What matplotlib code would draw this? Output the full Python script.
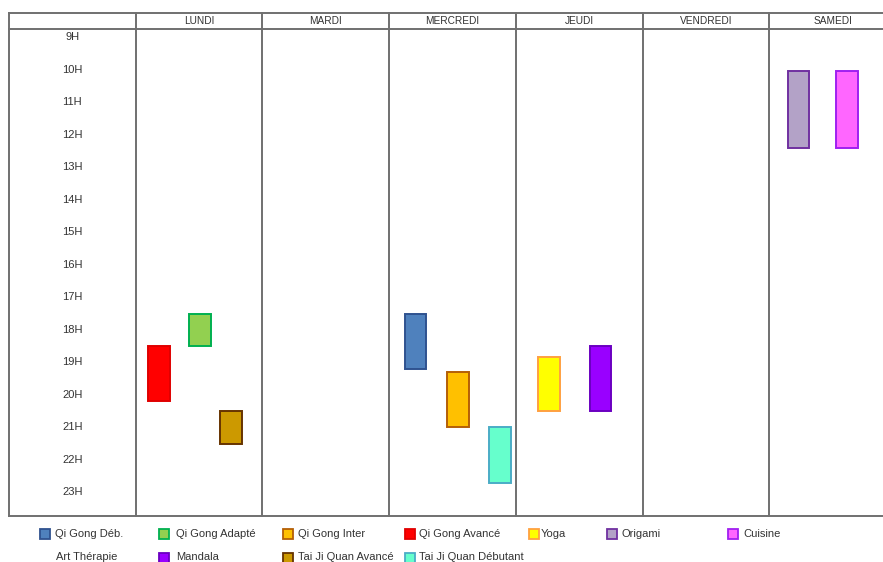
import matplotlib
matplotlib.use("Agg")
import matplotlib.pyplot as plt
from matplotlib.patches import Rectangle

plt.rcParams['font.family'] = ['Liberation Sans', 'DejaVu Sans']

days = ['LUNDI', 'MARDI', 'MERCREDI', 'JEUDI', 'VENDREDI', 'SAMEDI']
hours = list(range(9, 24))
hour_labels = [f'{h}H' for h in hours]

# cours : jour, début, fin (heures décimales)
activities = ['Qi Gong Avancé', 'Qi Gong Adapté', 'Tai Ji Quan Avancé',
              'Qi Gong Déb.', 'Qi Gong Inter', 'Tai Ji Quan Débutant',
              'Yoga', 'Mandala', 'Origami', 'Cuisine']
activity_day = ['LUNDI', 'LUNDI', 'LUNDI',
                'MERCREDI', 'MERCREDI', 'MERCREDI',
                'JEUDI', 'JEUDI', 'SAMEDI', 'SAMEDI']
start = [18.5, 17.5, 20.5, 17.5, 19.3, 21.0, 18.83, 18.5, 10.05, 10.05]
end = [20.2, 18.5, 21.5, 19.2, 21.0, 22.7, 20.5, 20.5, 12.4, 12.4]

# légende (ordre d'affichage)
legend_row1 = ['Qi Gong Déb.', 'Qi Gong Adapté', 'Qi Gong Inter', 'Qi Gong Avancé',
               'Yoga', 'Origami', 'Cuisine']
legend_row2 = ['Art Thérapie', 'Mandala', 'Tai Ji Quan Avancé', 'Tai Ji Quan Débutant']

# styles
face = {
    'Qi Gong Déb.': '#4f81bd', 'Qi Gong Adapté': '#92d050', 'Qi Gong Inter': '#ffc000',
    'Qi Gong Avancé': '#ff0000', 'Yoga': '#ffff00', 'Origami': '#b3a2c7',
    'Cuisine': '#ff66ff', 'Art Thérapie': 'none', 'Mandala': '#9900ff',
    'Tai Ji Quan Avancé': '#cc9900', 'Tai Ji Quan Débutant': '#66ffcc',
}
edge = {
    'Qi Gong Déb.': '#2f528f', 'Qi Gong Adapté': '#00b050', 'Qi Gong Inter': '#b45f06',
    'Qi Gong Avancé': '#e00000', 'Yoga': '#ffa040', 'Origami': '#7030a0',
    'Cuisine': '#a020f0', 'Art Thérapie': 'none', 'Mandala': '#6a00c0',
    'Tai Ji Quan Avancé': '#663300', 'Tai Ji Quan Débutant': '#4bacc6',
}
# position horizontale de chaque barre dans sa colonne (0..1)
slot = [0.184, 0.508, 0.752, 0.208, 0.544, 0.875, 0.262, 0.668, 0.231, 0.614]
bar_w = 0.17

W, H = 883, 562
fig = plt.figure(figsize=(W / 100, H / 100), dpi=100)
# pixel -> figure
left_px, right_px, top_px, bot_px = 9, 896, 13, 516
ax = fig.add_axes([left_px / W, 1 - bot_px / H, (right_px - left_px) / W, (bot_px - top_px) / H])

y_top, y_head, y_bot = 8.253, 8.745, 23.73
ax.set_xlim(-1, len(days))
ax.set_ylim(y_bot, y_top)
ax.axis('off')

grid_c = '#707070'
for x in range(-1, len(days) + 1):
    ax.plot([x, x], [y_top, y_bot], color=grid_c, lw=1.4, clip_on=False)
for y in (y_top, y_head, y_bot):
    ax.plot([-1, len(days)], [y, y], color=grid_c, lw=1.4, clip_on=False)

txt_c = '#333333'
for i, d in enumerate(days):
    ax.text(i + 0.5, (y_top + y_head) / 2, d, ha='center', va='center',
            fontsize=7.3, color=txt_c)
for h, lab in zip(hours, hour_labels):
    ax.text(-0.5, h, lab, ha='center', va='center', fontsize=8, color=txt_c)

for name, d, s, e, off in zip(activities, activity_day, start, end, slot):
    x = days.index(d) + off - bar_w / 2
    ax.add_patch(Rectangle((x, s), bar_w, e - s, facecolor=face[name],
                           edgecolor=edge[name], lw=1.4))

# légende manuelle
row1_marker = [45, 164, 287.5, 410, 533.5, 612, 733]
row1_text = [55, 176, 298, 419, 541, 621, 743]
row2_marker = [45, 164, 287.5, 410]
row2_text = [56, 176, 298, 419]
msize = 10
for names, mx, tx, ypx in ((legend_row1, row1_marker, row1_text, 534),
                           (legend_row2, row2_marker, row2_text, 557.5)):
    for name, m, t in zip(names, mx, tx):
        if face[name] != 'none':
            fig.patches.append(Rectangle(((m - msize / 2) / W, 1 - (ypx + msize / 2) / H),
                                         msize / W, msize / H, transform=fig.transFigure,
                                         facecolor=face[name], edgecolor=edge[name], lw=1.3))
        fig.text(t / W, 1 - ypx / H, name, ha='left', va='center', fontsize=8,
                 color=txt_c)

fig.savefig('out.png', dpi=100, facecolor='white')
